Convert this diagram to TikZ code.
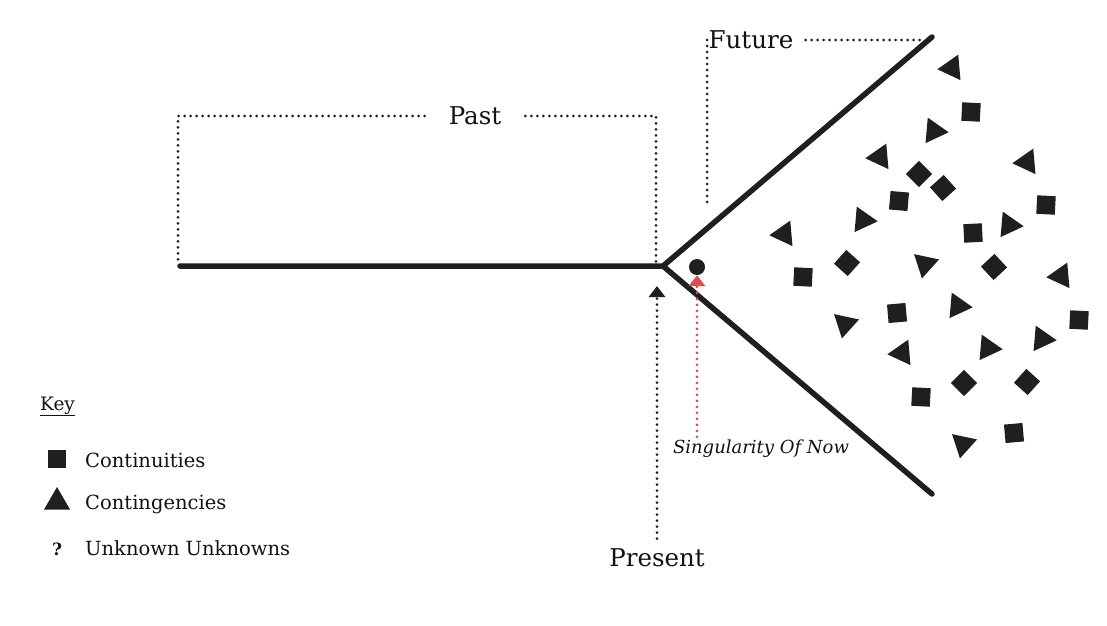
\documentclass[tikz,border=0pt]{standalone}
\usepackage{fontspec}
\setmainfont{DejaVu Serif}
\usetikzlibrary{arrows.meta,shapes.geometric,calc}
\definecolor{ink}{HTML}{1F1F1F}
\definecolor{txt}{HTML}{121212}
\definecolor{redink}{HTML}{E5484D}
\tikzset{
  mainline/.style={line width=5.5pt, draw=ink, line cap=round, line join=round},
  dotline/.style={line width=3pt, draw=ink, line cap=round, dash pattern=on 0pt off 6pt},
  reddots/.style={dotline, draw=redink},
  sq/.style={rectangle, fill=ink, minimum size=18.5pt, inner sep=0pt},
  dia/.style={sq, rotate=45},
  tri/.style={regular polygon, regular polygon sides=3, fill=ink, minimum size=29.5pt, inner sep=0pt},
  big/.style={font=\fontsize{24.5}{28}\selectfont, text=txt},
  keytext/.style={font=\fontsize{19.5}{24}\selectfont, anchor=base west, text=txt, inner sep=0pt},
  tiphead/.style={-{Triangle[width=16pt,length=11pt]}}
}
\begin{document}
\begin{tikzpicture}[x=1pt,y=-1pt]
\useasboundingbox[fill=white] (0,0) rectangle (1107,625);

% main lines
\coordinate (pastEnd) at (180,266);
\coordinate (junc) at (663,266);
\coordinate (upTip) at (932,37);
\coordinate (lowTip) at (932,494);
\draw[mainline] (pastEnd) -- (junc) -- (upTip);
\draw[mainline] (junc) -- (lowTip);

% Past bracket
\node[big, inner xsep=24pt, inner ysep=0pt] (past) at (475,116) {Past};
\coordinate (pastL) at (178,262);
\coordinate (pastR) at (656,262);
\draw[dotline] (past.west) -| (pastL);
\draw[dotline] (past.east) -| (pastR);

% Future bracket
\node[big, inner sep=0pt] (future) at (751,40) {Future};
\coordinate (futL) at (707,207);
\coordinate (futR) at (925,40);
\draw[dotline] (futL |- future.west) -- (futL);
\draw[dotline] ([xshift=12pt]future.east) -- (futR);

% Present
\node[big, inner sep=0pt] (present) at (657,558) {Present};
\coordinate (presTip) at (657,286);
\draw[dotline, tiphead] ([yshift=10pt]present.north) -- (presTip);

% Singularity of now
\node[circle, fill=ink, minimum size=16pt, inner sep=0pt] (now) at (697,267) {};
\node[font=\itshape\fontsize{18}{22}\selectfont, text=txt, inner sep=0pt] (sing) at (761,449) {Singularity Of Now};
\draw[reddots, tiphead] ([yshift=3pt]now |- sing.north) -- (now.south);

% Triangles (contingencies)
\foreach \x/\y/\r [count=\i] in {
  952/68/95, 934/131/-95, 880/157/95, 1027/162/95, 863/220/-95,
  1009/225/-95, 784/234/95, 925/264/48, 1061/276/95, 845/324/48,
  958/306/-95, 988/348/-95, 1042/339/-95, 902/353/95, 963/444/48}
  \node[tri, rotate=\r] (tri\i) at (\x,\y) {};

% Squares (continuities)
\foreach \x/\y/\r [count=\i] in {
  971/112/-3, 899/201/-5, 1046/205/-3, 973/233/3, 803/277/-3,
  897/313/5, 1079/320/-3, 921/397/-3, 1014/433/5}
  \node[sq, rotate=\r] (sq\i) at (\x,\y) {};

% Diamonds
\foreach \x/\y/\r [count=\i] in {
  919/174/0, 943/188/-3, 847/263/3, 994/267/-2, 964/383/0, 1027/382/3}
  \node[dia, rotate=\r] (dia\i) at (\x,\y) {};

% Key
\node[keytext, font=\fontsize{18.5}{22}\selectfont] (key) at (40,410) {\underline{Key}};
\node[sq, minimum size=18pt] (ksq) at (57,459) {};
\node[keytext] (kcont) at (85,467) {Continuities};
\node[tri, minimum size=30pt] (ktri) at (57,502) {};
\node[keytext] (kcontg) at (85,509) {Contingencies};
\node[font=\bfseries\fontsize{17}{22}\selectfont, text=txt, anchor=base, inner sep=0pt] (kq) at (57,555) {?};
\node[keytext] (kunk) at (85,555) {Unknown Unknowns};
\end{tikzpicture}
\end{document}
